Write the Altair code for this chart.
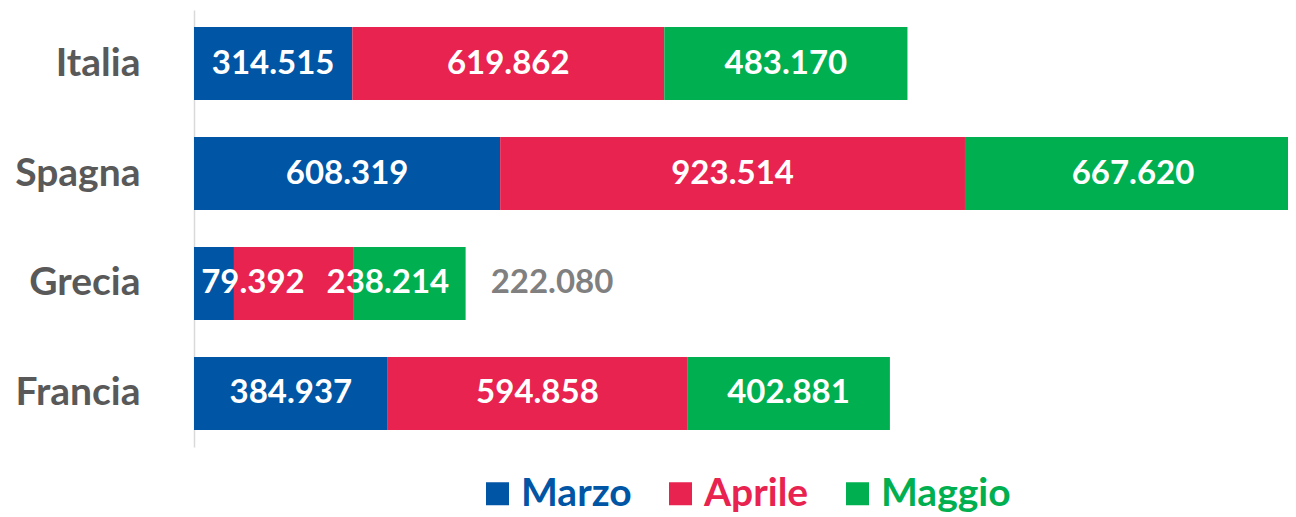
import altair as alt
import pandas as pd

countries = ["Italia", "Spagna", "Grecia", "Francia"]
months = ["Marzo", "Aprile", "Maggio"]
marzo = [314515, 608319, 79392, 384937]
aprile = [619862, 923514, 238214, 594858]
maggio = [483170, 667620, 222080, 402881]
colors = ["#0055A5", "#E8234F", "#00B050"]

rows = []
for i, c in enumerate(countries):
    for j, (m, vals) in enumerate(zip(months, [marzo, aprile, maggio])):
        v = vals[i]
        rows.append({"country": c, "month": m, "ord": j, "value": v,
                     "label": f"{v:,}".replace(",", ".")})
df = pd.DataFrame(rows)

xmax = max(a + b + c for a, b, c in zip(marzo, aprile, maggio))
FONT = "Lato"
PLOT_W = 1094
FULL_W = 1107  # the longest bar runs past the right edge of the window

xscale = alt.Scale(domain=[0, xmax * PLOT_W / FULL_W], nice=False, zero=True)
yenc = alt.Y("country:N", sort=countries, title=None,
             scale=alt.Scale(paddingInner=0.336, paddingOuter=0.155),
             axis=alt.Axis(domainColor="#D9D9D9", domainWidth=1.5, ticks=False,
                           labelPadding=54, labelFont=FONT, labelFontSize=39,
                           labelFontWeight="bold", labelColor="#595959", grid=False))

base = alt.Chart(df).transform_stack(
    stack="value", groupby=["country"],
    sort=[alt.SortField("ord", order="ascending")], as_=["x0", "x1"]
).transform_calculate(mid="(datum.x0 + datum.x1) / 2")

label_expr = ("datum.label == 'Marzo' ? '#0055A5' : "
              "datum.label == 'Aprile' ? '#E8234F' : '#00B050'")

bars = base.mark_bar().encode(
    y=yenc,
    x=alt.X("x0:Q", scale=xscale, axis=None),
    x2="x1:Q",
    color=alt.Color("month:N", sort=months,
                    scale=alt.Scale(domain=months, range=colors),
                    legend=alt.Legend(title=None, orient="none", direction="horizontal",
                                      legendX=284, legendY=464,
                                      symbolType="square", symbolSize=529,
                                      symbolStrokeWidth=0, symbolOpacity=1,
                                      labelFont=FONT, labelFontSize=39,
                                      labelFontWeight="bold",
                                      labelColor=alt.ExprRef(label_expr),
                                      labelOffset=4, columnPadding=29,
                                      labelLimit=300)),
)

txt_props = dict(font=FONT, fontSize=33, fontWeight="bold", baseline="middle")

main_txt = base.transform_filter("datum.country != 'Grecia'").mark_text(
    color="white", align="center", **txt_props
).encode(y=yenc, x=alt.X("mid:Q", scale=xscale, axis=None), text="label:N")

gr_marzo = base.transform_filter(
    "datum.country == 'Grecia' && datum.month == 'Marzo'"
).mark_text(color="white", align="center", dx=39, **txt_props).encode(
    y=yenc, x=alt.X("mid:Q", scale=xscale, axis=None), text="label:N")

gr_aprile = base.transform_filter(
    "datum.country == 'Grecia' && datum.month == 'Aprile'"
).mark_text(color="white", align="center", dx=94, **txt_props).encode(
    y=yenc, x=alt.X("mid:Q", scale=xscale, axis=None), text="label:N")

gr_maggio = base.transform_filter(
    "datum.country == 'Grecia' && datum.month == 'Maggio'"
).mark_text(color="#808080", align="left", dx=25, **txt_props).encode(
    y=yenc, x=alt.X("x1:Q", scale=xscale, axis=None), text="label:N")

chart = alt.layer(bars, main_txt, gr_marzo, gr_aprile, gr_maggio).properties(
    width=PLOT_W, height=437,
    autosize=alt.AutoSizeParams(type="none"),
    padding={"left": 186, "top": 2, "right": 0, "bottom": 68},
).configure_view(stroke=None)

chart.save("out.html", embed_options={"renderer": "svg", "actions": False})
